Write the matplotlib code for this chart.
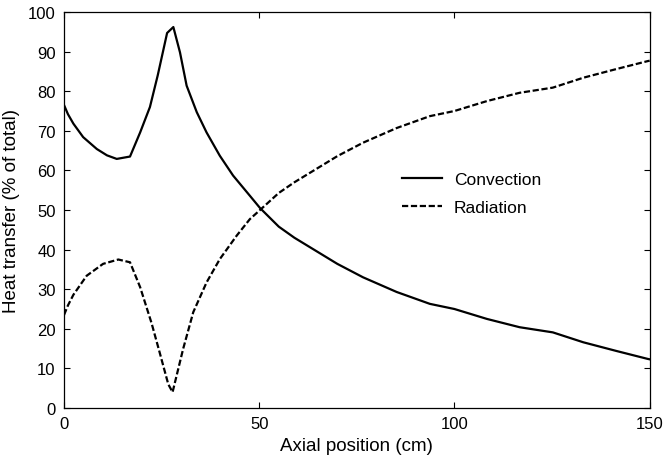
import matplotlib
matplotlib.use('Agg')
import matplotlib.pyplot as plt

# axial position (cm) and heat transfer share (% of total)
conv_x = [0, 1, 2.4, 4.9, 8.4, 11, 13.5, 16.9, 19.5, 22, 24, 26.4, 28,
          29.7, 31.4, 34, 36.5, 39.9, 43.3, 47.6, 50.2, 55, 59, 63, 70, 76.6,
          85.2, 93.7, 100, 108.3, 116.7, 125.2, 133, 141.5, 149.5, 150]
conv_y = [76.5, 74.2, 71.8, 68.4, 65.4, 63.8, 62.9, 63.5, 69.6, 76, 84,
          94.7, 96.2, 89.8, 81.4, 74.7, 69.6, 63.7, 58.7, 53.6, 50.5, 45.8,
          43, 40.6, 36.4, 33, 29.3, 26.3, 25, 22.5, 20.4, 19.1, 16.6, 14.4,
          12.4, 12.3]

rad_x = [0, 1, 2.4, 5.8, 10, 13.9, 16.9, 19.5, 22.4, 24.5, 26.7, 27.8,
         30.5, 33.1, 36.5, 39.9, 44.2, 47.6, 50.2, 55, 59, 63, 70, 76.6,
         85.2, 93.7, 100, 108.3, 116.7, 125.2, 133, 141.5, 149.5, 150]
rad_y = [23.5, 25.9, 28.6, 33.4, 36.4, 37.5, 36.8, 30.5, 21.5, 14, 6, 4.0,
         14.9, 24.2, 31.7, 37.6, 43.5, 47.7, 50, 54.3, 57, 59.4, 63.6, 67,
         70.7, 73.7, 75, 77.5, 79.6, 80.9, 83.4, 85.6, 87.6, 87.7]

plt.rcParams['font.family'] = ['Liberation Sans', 'DejaVu Sans']

fig = plt.figure(figsize=(6.67, 4.64), dpi=100)
ax = fig.add_axes([0.096, 0.1185, 0.878, 0.8535])

ax.plot(conv_x, conv_y, color='black', lw=1.6, ls='-', label='Convection')
ax.plot(rad_x, rad_y, color='black', lw=1.6, ls=(0, (2.8, 1.2)), label='Radiation')

ax.set_xlim(0, 150)
ax.set_ylim(0, 100)
ax.set_xticks([0, 50, 100, 150])
ax.set_yticks(range(0, 101, 10))
ax.tick_params(direction='in', top=True, right=True, labelsize=12, length=4,
               width=0.8, pad=6)
for s in ax.spines.values():
    s.set_linewidth(0.9)

ax.set_xlabel('Axial position (cm)', fontsize=13.5, labelpad=4)
ax.set_ylabel('Heat transfer (% of total)', fontsize=13.5, labelpad=6)

ax.legend(loc='upper left', bbox_to_anchor=(0.55, 0.635), frameon=False,
          fontsize=12.5, handlelength=2.3, handletextpad=0.7, labelspacing=0.7)

fig.savefig('out.png', dpi=100)
